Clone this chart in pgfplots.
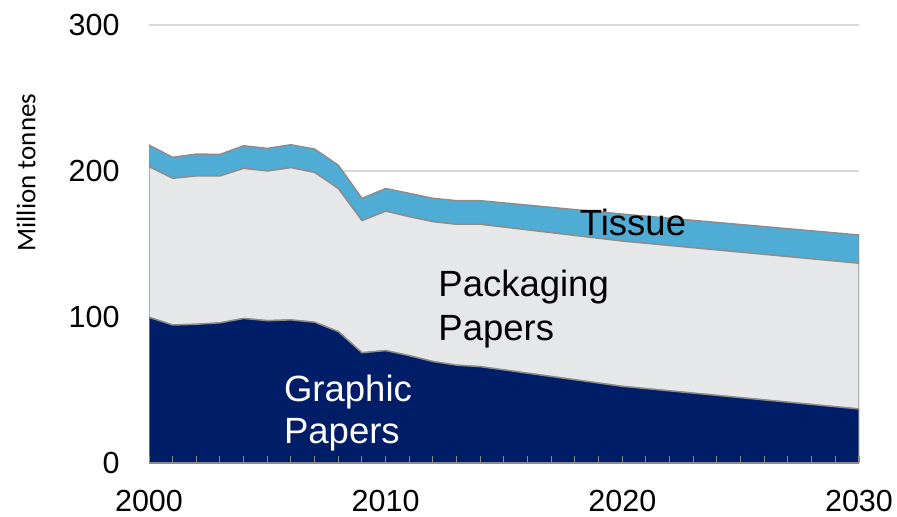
\documentclass[border=0pt]{standalone}
\usepackage{fontspec}
\setmainfont{Liberation Sans}
\newfontfamily\labelfont{Carlito}
\usepackage{pgfplots}
\usepackage{pgfplotstable}
\pgfplotsset{compat=1.18}

\definecolor{graphicnavy}{RGB}{0,30,104}
\definecolor{packgray}{RGB}{230,231,233}
\definecolor{tissueblue}{RGB}{79,173,213}
\definecolor{edgegray}{RGB}{140,140,140}
\definecolor{gridgray}{RGB}{217,217,217}

% grid behind the areas, ticks and axis line in front of them
\pgfplotsset{
  layers/grid below/.define layer set={
    axis background,axis grid,pre main,main,axis ticks,axis lines,axis tick labels,axis descriptions,axis foreground
  }{
    grid style={/pgfplots/on layer=axis grid},
    tick style={/pgfplots/on layer=axis ticks},
    axis line style={/pgfplots/on layer=axis lines},
    label style={/pgfplots/on layer=axis descriptions},
    legend style={/pgfplots/on layer=axis descriptions},
    title style={/pgfplots/on layer=axis descriptions},
    ticklabel style={/pgfplots/on layer=axis tick labels},
  },
}

% paper consumption by grade, million tonnes
\pgfplotstableread{
year gp    pp    ts
2000 99.8  103.2 14.8
2001 94.5  100.5 14.4
2002 95.0  101.6 15.0
2003 96.0  100.6 14.8
2004 99.0  102.8 15.5
2005 97.5  102.5 15.5
2006 98.0  104.3 15.7
2007 96.4  102.6 16.0
2008 90.0  98.0  16.0
2009 75.5  90.5  15.3
2010 77.0  95.5  15.5
2011 73.5  95.2  16.0
2012 69.5  95.8  16.0
2013 67.0  96.5  16.2
2014 66.0  97.5  16.2
2020 52.5  99.5  18.5
2030 37.0  99.8  19.4
}\papertable

\newcommand{\bigfont}{\fontsize{36.5bp}{43bp}\selectfont}

\begin{document}
\begin{tikzpicture}
\begin{axis}[
  name=ax,
  set layers=grid below,
  scale only axis,
  width=710bp, height=438bp,
  xmin=2000, xmax=2030, ymin=0, ymax=300,
  stack plots=y,
  axis x line*=bottom, axis y line*=left,
  y axis line style={draw=none},
  x axis line style={edgegray, line width=1.3bp},
  xtick={2000,2010,2020,2030},
  minor xtick={2000,...,2030},
  tick align=inside,
  major tick length=6.5bp, minor tick length=6.5bp,
  x tick style={edgegray, line width=1bp},
  ytick={0,100,200,300},
  y tick style={draw=none},
  ymajorgrids,
  grid style={gridgray, line width=1.2bp},
  tick label style={font=\fontsize{30.5bp}{36bp}\selectfont},
  /pgf/number format/assume math mode=true,
  x tick label style={/pgf/number format/1000 sep={}, yshift=-24bp},
  y tick label style={xshift=-26bp},
  ylabel={Million tonnes},
  ylabel style={font=\labelfont\fontsize{27bp}{32bp}\selectfont,
    at={(axis description cs:-0.173,0.663)}, anchor=center},
]
\addplot[fill=graphicnavy, draw=edgegray, line width=1.4bp] table[x=year, y=gp] {\papertable} \closedcycle;
\addplot[fill=packgray, draw=edgegray, line width=1.4bp] table[x=year, y=pp] {\papertable} \closedcycle;
\addplot[fill=tissueblue, draw=edgegray, line width=1.4bp] table[x=year, y=ts] {\papertable} \closedcycle;

% anchor points for the grade names
\coordinate (graphicA) at (axis cs:2005.7,42);
\coordinate (graphicB) at (axis cs:2005.7,13.5);
\coordinate (packA) at (axis cs:2012.22,113.9);
\coordinate (packB) at (axis cs:2012.22,83.8);
\coordinate (tissue) at (axis cs:2018.2,155.5);
\end{axis}
\node[anchor=base west, inner sep=0, text=white, font=\bigfont] at (graphicA) {Graphic};
\node[anchor=base west, inner sep=0, text=white, font=\bigfont] at (graphicB) {Papers};
\node[anchor=base west, inner sep=0, font=\bigfont] at (packA) {Packaging};
\node[anchor=base west, inner sep=0, font=\bigfont] at (packB) {Papers};
\node[anchor=base west, inner sep=0, font=\bigfont] at (tissue) {Tissue};
\pgfresetboundingbox
\path (ax.south west) ++(-149bp,-54bp) rectangle ++(897bp,517bp);
\end{tikzpicture}
\end{document}
